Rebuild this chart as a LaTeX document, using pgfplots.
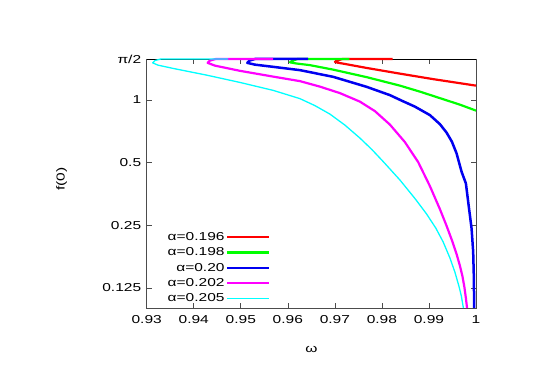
\documentclass[border=0pt]{standalone}
\usepackage{fontspec}
\setmainfont{Liberation Sans}[FakeStretch=1.35]
\usepackage{pgfplots}
\pgfplotsset{compat=1.18}

\definecolor{gred}{RGB}{255,0,0}
\definecolor{ggreen}{RGB}{0,255,0}
\definecolor{gblue}{RGB}{0,0,240}
\definecolor{gmagenta}{RGB}{255,0,255}
\definecolor{gcyan}{RGB}{0,255,255}

\begin{document}
\begin{tikzpicture}
\begin{axis}[
    name=ax,
    scale only axis,
    width=329.3bp, height=249bp,
    xmin=0.93, xmax=1,
    ymode=log, ymin=0.1, ymax=1.5708,
    clip=false,
    font=\fontsize{11.5bp}{13bp}\selectfont,
    /pgf/number format/assume math mode=true,
    xtick={0.93,0.94,0.95,0.96,0.97,0.98,0.99,1},
    xticklabels={0.93,0.94,0.95,0.96,0.97,0.98,0.99,1},
    ytick={0.125,0.25,0.5,1,1.5708},
    yticklabels={0.125,0.25,0.5,1,π/2},
    minor tick num=0,
    tick align=inside,
    major tick length=5bp,
    tick style={black!70, line width=0.6bp},
    axis line style={black!70, line width=0.8bp},
    xticklabel style={yshift=-4bp},
    yticklabel style={xshift=-2bp},
    xlabel={ω},
    ylabel={f(0)},
    xlabel style={at={(axis description cs:0.5,0)}, anchor=center, yshift=-41bp},
    ylabel style={at={(axis description cs:0,0.518)}, anchor=center, yshift=85bp},
    legend cell align=right,
    legend plot pos=right,
    legend style={draw=none, fill=none, at={(axis description cs:0.377,0.012)},
      anchor=south east, inner sep=0pt, row sep=2.6bp,
      nodes={inner sep=1.6bp}},
    legend image code/.code={\draw[#1] (8bp,0bp) -- (50bp,0bp);},
    every axis plot/.append style={line join=round},
]
% pi/2 line
\addplot[black, line width=0.9bp, forget plot] coordinates {(0.93,1.5708) (1,1.5708)};

% alpha = 0.196
\addplot[gred, line width=2.2bp] coordinates {
 (0.9823,1.5708) (0.9716,1.5708) (0.97051,1.545) (0.97001,1.522) (0.9706,1.508)
 (0.97214,1.4871) (0.97675,1.4229) (0.98383,1.3359) (0.9909,1.2571) (1.0,1.170)};
\addlegendentry{α=0.196}

% alpha = 0.198
\addplot[ggreen, line width=2.2bp] coordinates {
 (0.9731,1.5708) (0.9621,1.5708) (0.96095,1.54) (0.96045,1.5138) (0.96173,1.4954)
 (0.9647,1.4676) (0.96965,1.3963) (0.97675,1.2852) (0.98383,1.1700) (0.98808,1.0949)
 (0.99232,1.0190) (0.99657,0.9483) (1.0,0.8875)};
\addlegendentry{α=0.198}

% alpha = 0.20
\addplot[gblue, line width=2.5bp] coordinates {
 (0.9643,1.5708) (0.9530,1.5708) (0.95188,1.545) (0.95138,1.505) (0.95301,1.4757)
 (0.95690,1.4402) (0.96258,1.3886) (0.96965,1.2894) (0.97675,1.1546) (0.98170,1.0533)
 (0.98419,0.9912) (0.98701,0.9276) (0.99020,0.8445) (0.99232,0.7646) (0.99375,0.6957)
 (0.99487,0.6300) (0.99587,0.5529) (0.99694,0.4512) (0.99785,0.3969) (0.99834,0.3237)
 (0.99906,0.2411) (0.99940,0.1864) (0.99955,0.1390) (0.99961,0.1)};
\addlegendentry{α=0.20}

% alpha = 0.202
\addplot[gmagenta, line width=2.2bp] coordinates {
 (0.9569,1.5708) (0.9447,1.5708) (0.94346,1.545) (0.94296,1.505) (0.94451,1.4596)
 (0.94983,1.378) (0.95690,1.2925) (0.96258,1.2296) (0.96683,1.157) (0.97108,1.077)
 (0.97533,0.980) (0.97851,0.8826) (0.98170,0.7604) (0.98489,0.6265) (0.98771,0.5022)
 (0.99020,0.3852) (0.99232,0.2988) (0.99375,0.2480) (0.99487,0.2120) (0.99587,0.1817)
 (0.99657,0.1600) (0.99711,0.1425) (0.99753,0.1262) (0.99785,0.1116) (0.99810,0.1)};
\addlegendentry{α=0.202}

% alpha = 0.205
\addplot[gcyan, line width=1.3bp] coordinates {
 (0.9473,1.5708) (0.9330,1.5708) (0.93177,1.545) (0.93127,1.505) (0.9324,1.4676)
 (0.93565,1.415) (0.94275,1.314) (0.94983,1.212) (0.95690,1.110) (0.96258,1.013)
 (0.96576,0.938) (0.96895,0.854) (0.97214,0.756) (0.97533,0.655) (0.97787,0.577)
 (0.98028,0.505) (0.98383,0.412) (0.98701,0.336) (0.98950,0.2828) (0.99147,0.2418)
 (0.99303,0.2074) (0.99445,0.1741) (0.99551,0.1489) (0.99636,0.1276) (0.99689,0.1141)
 (0.99732,0.1)};
\addlegendentry{α=0.205}
\end{axis}
\path[use as bounding box] ([shift={(-146.7bp,-77bp)}]ax.south west) rectangle ++(546bp,385bp);
\end{tikzpicture}
\end{document}
